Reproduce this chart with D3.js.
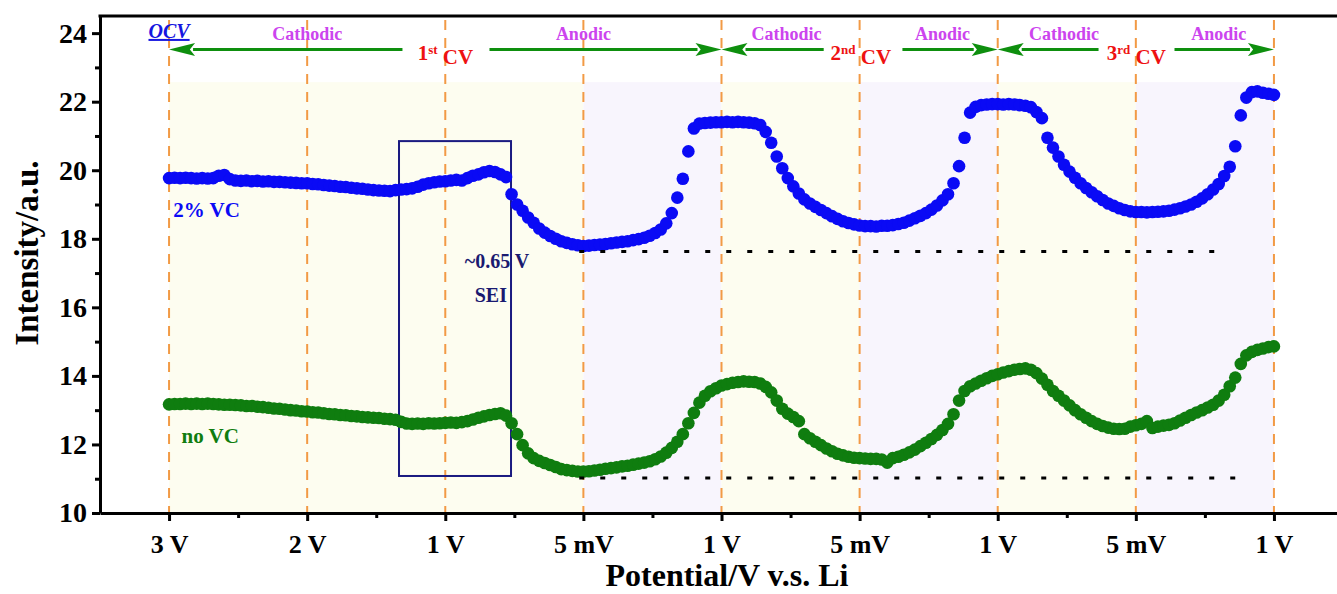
<!DOCTYPE html>
<html>
<head>
<meta charset="utf-8">
<script src="https://cdn.jsdelivr.net/npm/d3@7"></script>
<style>
  body { margin: 0; background: #fff; }
  svg text { font-family: "Liberation Serif", "Times New Roman", serif; font-weight: bold; }
</style>
</head>
<body>
<div id="chart"></div>
<script>
// sampling step along the x index (one unit = one tick interval)
const step = 0.04;

const tickLabels = ["3 V", "2 V", "1 V", "5 mV", "1 V", "5 mV", "1 V", "5 mV", "1 V"];

// 2% VC, every 0.04 units
const blueVC = [
  19.77,19.78,19.77,19.78,19.77,19.76,19.77,19.76,19.77,19.84,19.86,19.74,19.70,19.69,19.70,19.68,19.69,19.67,19.68,19.66,19.66,19.65,19.64,19.63,19.62,
  19.62,19.60,19.59,19.57,19.55,19.54,19.52,19.51,19.49,19.47,19.46,19.44,19.42,19.41,19.40,19.39,19.42,19.44,19.45,19.47,19.52,19.58,19.62,19.65,19.67,
  19.68,19.70,19.72,19.70,19.77,19.84,19.88,19.94,19.98,19.95,19.88,19.80,19.30,19.00,18.82,18.62,18.47,18.30,18.18,18.08,18.00,17.93,17.88,17.84,17.81,
  17.79,17.80,17.82,17.83,17.85,17.87,17.89,17.91,17.93,17.96,17.99,18.03,18.09,18.17,18.27,18.45,18.75,19.20,19.75,20.55,21.22,21.36,21.38,21.39,21.40,
  21.40,21.41,21.40,21.41,21.40,21.39,21.37,21.32,21.12,20.80,20.40,20.06,19.77,19.53,19.32,19.15,19.03,18.93,18.84,18.75,18.66,18.58,18.51,18.46,18.42,
  18.39,18.37,18.37,18.36,18.38,18.38,18.40,18.43,18.47,18.53,18.60,18.67,18.75,18.85,18.97,19.12,19.30,19.62,20.12,20.95,21.68,21.85,21.90,21.92,21.93,
  21.93,21.92,21.93,21.92,21.90,21.88,21.84,21.70,21.52,20.95,20.66,20.40,20.16,19.96,19.78,19.62,19.48,19.36,19.24,19.13,19.03,18.96,18.89,18.84,18.80,
  18.78,18.78,18.77,18.78,18.79,18.80,18.82,18.85,18.89,18.94,19.00,19.08,19.18,19.30,19.44,19.60,19.83,20.10,20.70,21.60,22.12,22.28,22.30,22.26,22.23,
  22.20
];

// no VC
const noVC = [
  13.17,13.18,13.18,13.19,13.18,13.19,13.18,13.19,13.18,13.17,13.16,13.16,13.15,13.14,13.12,13.12,13.10,13.09,13.07,13.05,13.04,13.02,13.00,12.99,12.97,
  12.96,12.94,12.93,12.91,12.89,12.88,12.86,12.85,12.83,12.82,12.80,12.79,12.78,12.77,12.75,12.74,12.72,12.66,12.61,12.60,12.61,12.60,12.62,12.61,12.62,
  12.63,12.64,12.63,12.65,12.68,12.73,12.78,12.82,12.86,12.89,12.91,12.84,12.62,12.30,11.98,11.74,11.60,11.52,11.46,11.40,11.34,11.28,11.25,11.23,11.21,
  11.21,11.22,11.24,11.26,11.29,11.31,11.33,11.36,11.38,11.41,11.44,11.47,11.51,11.57,11.65,11.76,11.90,12.08,12.30,12.62,12.92,13.22,13.42,13.55,13.64,
  13.72,13.76,13.80,13.82,13.84,13.83,13.82,13.78,13.68,13.52,13.28,13.04,12.90,12.80,12.68,12.30,12.18,12.08,11.98,11.88,11.80,11.73,11.68,11.64,11.61,
  11.60,11.59,11.58,11.58,11.56,11.47,11.60,11.64,11.70,11.77,11.85,11.95,12.05,12.16,12.28,12.42,12.60,12.88,13.28,13.56,13.70,13.78,13.86,13.93,14.00,
  14.05,14.10,14.14,14.18,14.20,14.22,14.18,14.08,13.92,13.74,13.56,13.42,13.28,13.14,13.00,12.88,12.78,12.68,12.60,12.54,12.49,12.46,12.45,12.46,12.52,
  12.56,12.60,12.68,12.48,12.52,12.55,12.57,12.62,12.70,12.78,12.86,12.93,13.00,13.08,13.16,13.28,13.45,13.70,13.95,14.35,14.60,14.70,14.76,14.80,14.84,
  14.86
];

// shaded sweep regions [from, to, kind]
const bands = [[0, 3, "cathodic"], [3, 4, "anodic"], [4, 5, "cathodic"], [5, 6, "anodic"], [6, 7, "cathodic"], [7, 8, "anodic"]];
const sweepLabels = [["Cathodic", 1], ["Anodic", 3], ["Cathodic", 4.47], ["Anodic", 5.6], ["Cathodic", 6.48], ["Anodic", 7.6]];
// arrows [start, end] : head drawn at end
const arrows = [[1.69, 0], [2.32, 4], [4.74, 4], [5.31, 6], [6.73, 6], [7.28, 8]];
const cvLabels = [["1", "st", 1.8], ["2", "nd", 4.79], ["3", "rd", 6.79]];
// dotted baselines [y, from, to]
const baselines = [[17.63, 2.97, 7.68], [11.02, 2.97, 7.79]];
const seiBox = { x0: 1.665, x1: 2.476, y0: 11.08, y1: 20.85 };

const width = 1337, height = 594;
const svg = d3.select("#chart").append("svg")
  .attr("width", width)
  .attr("height", height);

const x = d3.scaleLinear().domain([-0.5, 8.5]).range([100, 1343]);
const y = d3.scaleLinear().domain([10, 24.5]).range([513, 16]);

const bandColor = { cathodic: "#fdfdf0", anodic: "#f8f5fd" };

svg.append("g").selectAll("rect")
  .data(bands)
  .enter().append("rect")
  .attr("x", d => x(d[0]))
  .attr("width", d => x(d[1]) - x(d[0]))
  .attr("y", y(22.57))
  .attr("height", y(10) - y(22.57))
  .attr("fill", d => bandColor[d[2]]);

// orange dashed guides at every tick
svg.append("g").selectAll("line")
  .data(d3.range(0, 9))
  .enter().append("line")
  .attr("x1", d => x(d)).attr("x2", d => x(d))
  .attr("y1", y(24.38)).attr("y2", y(10))
  .attr("stroke", "#f29a45")
  .attr("stroke-width", 2)
  .attr("stroke-dasharray", "10 8");

// SEI box
svg.append("rect")
  .attr("x", x(seiBox.x0))
  .attr("y", y(seiBox.y1))
  .attr("width", x(seiBox.x1) - x(seiBox.x0))
  .attr("height", y(seiBox.y0) - y(seiBox.y1))
  .attr("fill", "none")
  .attr("stroke", "#1a1a80")
  .attr("stroke-width", 2);

function drawSeries(values, color) {
  svg.append("g").selectAll("circle")
    .data(values)
    .enter().append("circle")
    .attr("cx", (d, i) => x(i * step))
    .attr("cy", d => y(d))
    .attr("r", 6.3)
    .attr("fill", color);
}
drawSeries(blueVC, "#0a0af5");
drawSeries(noVC, "#0f7d0f");

// dotted lines
svg.append("g").selectAll("line")
  .data(baselines)
  .enter().append("line")
  .attr("x1", d => x(d[1])).attr("x2", d => x(d[2]))
  .attr("y1", d => y(d[0])).attr("y2", d => y(d[0]))
  .attr("stroke", "#000")
  .attr("stroke-width", 3)
  .attr("stroke-dasharray", "5 16");

// axes
svg.append("g")
  .attr("transform", "translate(0," + y(10) + ")")
  .call(d3.axisBottom(x).tickValues(d3.range(0, 9)).tickSize(8).tickSizeOuter(0)
    .tickPadding(14).tickFormat(i => tickLabels[i]));
svg.append("g")
  .attr("transform", "translate(0," + y(10) + ")")
  .call(d3.axisBottom(x).tickValues(d3.range(0.5, 8, 1)).tickSize(5).tickSizeOuter(0).tickFormat(""))
  .select(".domain").remove();

const yAxis = svg.append("g")
  .attr("class", "yaxis")
  .attr("transform", "translate(" + x(-0.5) + ",0)")
  .call(d3.axisLeft(y).tickValues(d3.range(10, 25, 2)).tickSize(8).tickSizeOuter(0).tickPadding(5));
svg.append("g")
  .attr("transform", "translate(" + x(-0.5) + ",0)")
  .call(d3.axisLeft(y).tickValues(d3.range(11, 24, 2)).tickSize(5).tickSizeOuter(0).tickFormat(""))
  .select(".domain").remove();

svg.selectAll(".domain, .tick line").attr("stroke", "#000").attr("stroke-width", 3);
svg.selectAll(".tick text")
  .attr("fill", "#000")
  .style("font-family", '"Liberation Serif", "Times New Roman", serif')
  .style("font-weight", "bold")
  .style("font-size", "26px");
yAxis.selectAll(".tick text").style("font-size", "28px");

// top frame line
svg.append("line")
  .attr("x1", x(-0.5) - 1.5).attr("x2", width)
  .attr("y1", y(24.5)).attr("y2", y(24.5))
  .attr("stroke", "#000").attr("stroke-width", 3);

// axis titles
svg.append("text")
  .attr("x", 727).attr("y", 586)
  .attr("text-anchor", "middle")
  .style("font-size", "32px")
  .text("Potential/V v.s. Li");
svg.append("text")
  .attr("transform", "translate(38,253) rotate(-90)")
  .attr("text-anchor", "middle")
  .style("font-size", "33px")
  .text("Intensity/a.u.");

// top annotation row
svg.append("text")
  .attr("x", x(0)).attr("y", y(23.86))
  .attr("text-anchor", "middle")
  .attr("fill", "#1515e0")
  .style("font-size", "20px")
  .style("font-style", "italic")
  .style("text-decoration", "underline")
  .text("OCV");

svg.append("g").selectAll("text")
  .data(sweepLabels)
  .enter().append("text")
  .attr("x", d => x(d[1])).attr("y", y(23.8))
  .attr("text-anchor", "middle")
  .attr("fill", "#cc44ee")
  .style("font-size", "18px")
  .text(d => d[0]);

const arrowY = y(23.52);
const arrowG = svg.append("g").attr("fill", "#0e8f0e").attr("stroke", "#0e8f0e");
arrows.forEach(a => {
  const xs = x(a[0]), xe = x(a[1]);
  const dir = xe > xs ? 1 : -1;
  const headLen = 26, headHalf = 6.5;
  arrowG.append("line")
    .attr("x1", xs).attr("x2", xe - dir * headLen + dir * 2)
    .attr("y1", arrowY).attr("y2", arrowY)
    .attr("stroke-width", 3);
  arrowG.append("path")
    .attr("stroke", "none")
    .attr("d", "M" + xe + "," + arrowY +
      "L" + (xe - dir * headLen) + "," + (arrowY - headHalf) +
      "L" + (xe - dir * headLen * 0.8) + "," + arrowY +
      "L" + (xe - dir * headLen) + "," + (arrowY + headHalf) + "Z");
});

cvLabels.forEach(c => {
  const t = svg.append("text")
    .attr("x", x(c[2])).attr("y", y(23.21))
    .attr("fill", "#ee1111")
    .style("font-size", "21px");
  t.append("tspan").text(c[0]);
  t.append("tspan").attr("dy", "-0.45em").style("font-size", "13px").text(c[1]);
  t.append("tspan").attr("dy", "0.45em").text(" CV");
});

// series and SEI labels
svg.append("text")
  .attr("x", x(0.03)).attr("y", y(18.63))
  .attr("fill", "#0a0af5").style("font-size", "21px")
  .text("2% VC");
svg.append("text")
  .attr("x", x(0.09)).attr("y", y(12.04))
  .attr("fill", "#0f7d0f").style("font-size", "21px")
  .text("no VC");
svg.append("text")
  .attr("x", x(2.375)).attr("y", y(17.15))
  .attr("text-anchor", "middle")
  .attr("fill", "#1a1a70").style("font-size", "20px")
  .text("~0.65 V");
svg.append("text")
  .attr("x", x(2.33)).attr("y", y(16.16))
  .attr("text-anchor", "middle")
  .attr("fill", "#1a1a70").style("font-size", "20px")
  .text("SEI");
</script>
</body>
</html>
